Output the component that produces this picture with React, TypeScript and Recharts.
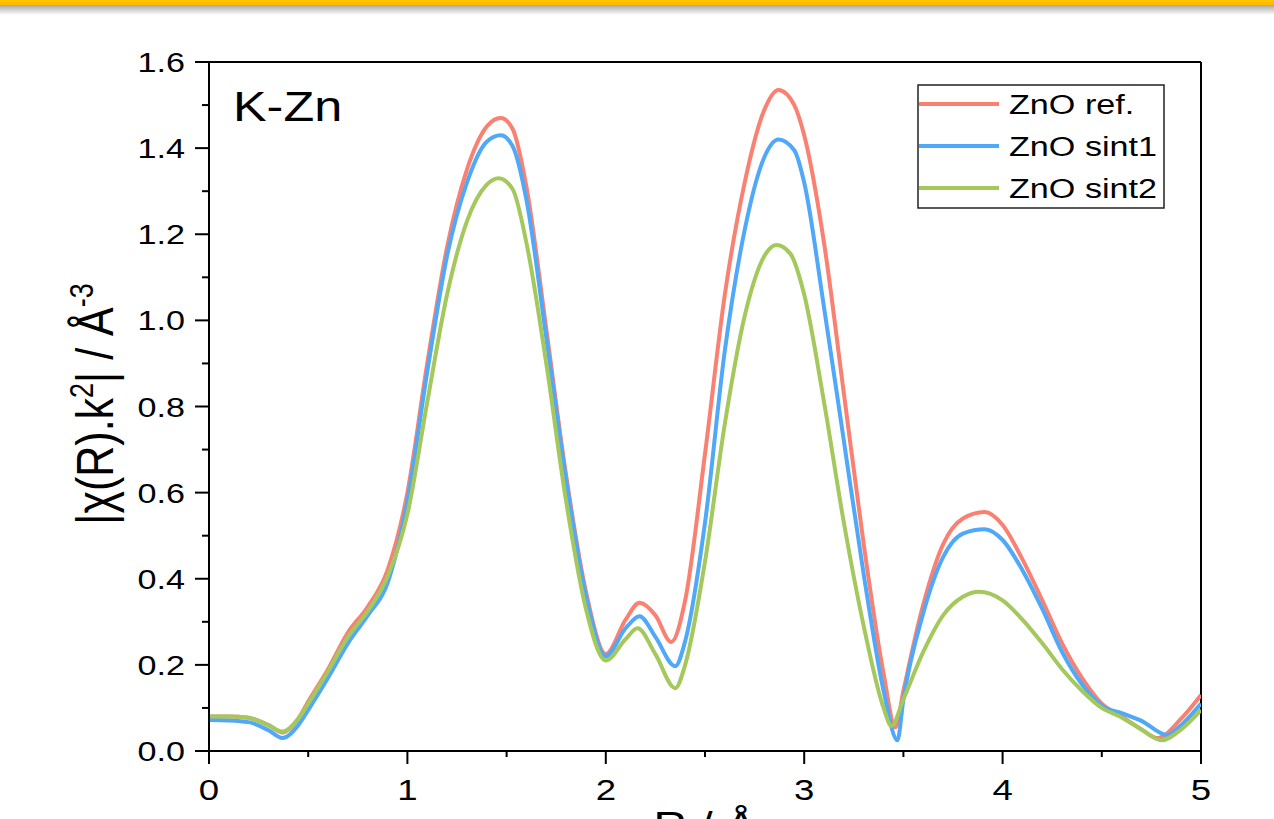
import React from 'react';
import { LineChart, Line, XAxis, YAxis, ReferenceLine, Legend } from 'recharts';

const FONT = '"Liberation Sans", Arial, Helvetica, sans-serif';
const SX = 1.22;

// ZnO ref.
const refR = [0, 0.1, 0.2, 0.3, 0.37, 0.45, 0.5, 0.6, 0.7, 0.8, 0.9, 1.0, 1.1, 1.2, 1.3, 1.4, 1.47, 1.53, 1.6, 1.7, 1.8, 1.9, 2.0, 2.1, 2.17, 2.25, 2.33, 2.4, 2.5, 2.6, 2.7, 2.8, 2.87, 2.95, 3.0, 3.1, 3.2, 3.3, 3.4, 3.46, 3.5, 3.6, 3.7, 3.8, 3.91, 4.0, 4.1, 4.2, 4.3, 4.4, 4.5, 4.6, 4.7, 4.78, 4.9, 5.0];
const refChi = [0.08, 0.08, 0.077, 0.06, 0.043, 0.075, 0.115, 0.19, 0.275, 0.335, 0.42, 0.6, 0.9, 1.17, 1.35, 1.45, 1.47, 1.445, 1.31, 0.98, 0.64, 0.37, 0.225, 0.305, 0.344, 0.315, 0.253, 0.35, 0.69, 1.06, 1.32, 1.49, 1.535, 1.5, 1.43, 1.18, 0.83, 0.48, 0.18, 0.055, 0.14, 0.34, 0.48, 0.54, 0.555, 0.525, 0.445, 0.35, 0.25, 0.17, 0.11, 0.08, 0.05, 0.03, 0.075, 0.13];

// ZnO sint1
const sint1R = [0, 0.1, 0.2, 0.3, 0.37, 0.45, 0.5, 0.6, 0.7, 0.8, 0.9, 1.0, 1.1, 1.2, 1.3, 1.4, 1.47, 1.53, 1.6, 1.7, 1.8, 1.9, 2.0, 2.1, 2.17, 2.25, 2.35, 2.4, 2.5, 2.6, 2.7, 2.8, 2.87, 2.95, 3.0, 3.1, 3.2, 3.3, 3.4, 3.47, 3.5, 3.6, 3.7, 3.8, 3.91, 4.0, 4.1, 4.2, 4.3, 4.4, 4.5, 4.6, 4.7, 4.83, 4.9, 5.0];
const sint1Chi = [0.072, 0.071, 0.067, 0.048, 0.03, 0.06, 0.095, 0.17, 0.25, 0.315, 0.39, 0.58, 0.88, 1.15, 1.32, 1.415, 1.43, 1.405, 1.28, 0.96, 0.63, 0.36, 0.22, 0.285, 0.313, 0.265, 0.197, 0.255, 0.53, 0.93, 1.21, 1.38, 1.42, 1.395, 1.32, 1.03, 0.72, 0.41, 0.14, 0.025, 0.12, 0.32, 0.45, 0.505, 0.515, 0.49, 0.42, 0.33, 0.23, 0.155, 0.105, 0.088, 0.07, 0.037, 0.06, 0.11];

// ZnO sint2
const sint2R = [0, 0.1, 0.2, 0.3, 0.37, 0.45, 0.5, 0.6, 0.7, 0.8, 0.9, 1.0, 1.1, 1.2, 1.3, 1.4, 1.46, 1.53, 1.6, 1.7, 1.8, 1.9, 2.0, 2.1, 2.16, 2.25, 2.35, 2.4, 2.5, 2.6, 2.7, 2.8, 2.86, 2.93, 3.0, 3.1, 3.2, 3.3, 3.4, 3.44, 3.5, 3.6, 3.7, 3.8, 3.88, 4.0, 4.1, 4.2, 4.3, 4.4, 4.5, 4.6, 4.7, 4.8, 4.9, 5.0];
const sint2Chi = [0.08, 0.08, 0.077, 0.06, 0.045, 0.075, 0.11, 0.185, 0.265, 0.325, 0.405, 0.55, 0.81, 1.06, 1.23, 1.315, 1.33, 1.305, 1.18, 0.9, 0.58, 0.33, 0.21, 0.26, 0.285, 0.225, 0.146, 0.2, 0.44, 0.76, 1.01, 1.15, 1.175, 1.155, 1.06, 0.81, 0.53, 0.29, 0.1, 0.058, 0.12, 0.23, 0.315, 0.358, 0.37, 0.35, 0.305, 0.25, 0.19, 0.14, 0.1, 0.078, 0.05, 0.025, 0.05, 0.095];

const seriesNames = ['ZnO ref.', 'ZnO sint1', 'ZnO sint2'];
const seriesColors = ['#FA8072', '#4FA8F8', '#A4C85C'];

const xTicks = [0, 0.5, 1, 1.5, 2, 2.5, 3, 3.5, 4, 4.5, 5];
const yTicks = [0, 0.1, 0.2, 0.3, 0.4, 0.5, 0.6, 0.7, 0.8, 0.9, 1.0, 1.1, 1.2, 1.3, 1.4, 1.5, 1.6];

const toData = (rs: number[], ys: number[]) => rs.map((r, i) => ({ r, chi: ys[i] }));
const refData = toData(refR, refChi);
const sint1Data = toData(sint1R, sint1Chi);
const sint2Data = toData(sint2R, sint2Chi);
const allData = [refData, sint1Data, sint2Data];

const XTick = (props: any) => {
  const { x, y, payload } = props;
  const v = payload.value as number;
  const major = Math.abs(v - Math.round(v)) < 1e-6;
  return (
    <g>
      <line x1={x} x2={x} y1={y} y2={y + (major ? 13 : 6)} stroke="#000" strokeWidth={2} />
      {major && (
        <g transform={`translate(${x},${y + 49}) scale(${SX},1)`}>
          <text x={0} y={0} textAnchor="middle" fontSize={30} fontFamily={FONT} fill="#000">
            {String(v)}
          </text>
        </g>
      )}
    </g>
  );
};

const YTick = (props: any) => {
  const { x, y, payload } = props;
  const v = payload.value as number;
  const major = Math.round(v * 10) % 2 === 0;
  return (
    <g>
      <line x1={x - (major ? 14 : 7)} x2={x} y1={y} y2={y} stroke="#000" strokeWidth={2} />
      {major && (
        <g transform={`translate(${x - 24},${y + 10}) scale(${SX},1)`}>
          <text x={0} y={0} textAnchor="end" fontSize={28} fontFamily={FONT} fill="#000">
            {v.toFixed(1)}
          </text>
        </g>
      )}
    </g>
  );
};

const renderLegend = () => (
  <svg width={248} height={125} style={{ display: 'block' }}>
    <rect x={1} y={1} width={246} height={123} fill="#fff" stroke="#222" strokeWidth={1.5} />
    {seriesNames.map((name, i) => {
      const cy = 20 + i * 42;
      return (
        <g key={name}>
          <line x1={2} x2={82} y1={cy} y2={cy} stroke={seriesColors[i]} strokeWidth={4} />
          <g transform={`translate(92,${cy + 10}) scale(${SX},1)`}>
            <text x={0} y={0} fontSize={28} fontFamily={FONT} fill="#000">{name}</text>
          </g>
        </g>
      );
    })}
  </svg>
);

export default function App() {
  return (
    <div style={{ position: 'absolute', left: 0, top: 0, width: 1274, height: 819, background: '#fff', overflow: 'hidden' }}>
      <LineChart
        width={1274}
        height={819}
        margin={{ top: 62, right: 73, left: 149, bottom: 38 }}
      >
        <XAxis
          dataKey="r"
          type="number"
          domain={[0, 5]}
          ticks={xTicks}
          interval={0}
          allowDataOverflow
          height={30}
          tickSize={0}
          tickMargin={0}
          tickLine={false}
          axisLine={{ stroke: '#000', strokeWidth: 2 }}
          tick={<XTick />}
        />
        <YAxis
          type="number"
          domain={[0, 1.6]}
          ticks={yTicks}
          interval={0}
          allowDataOverflow
          width={60}
          tickSize={0}
          tickMargin={0}
          tickLine={false}
          axisLine={{ stroke: '#000', strokeWidth: 2 }}
          tick={<YTick />}
        />
        <ReferenceLine y={1.6} stroke="#000" strokeWidth={2} ifOverflow="visible" />
        <ReferenceLine x={5} stroke="#000" strokeWidth={2} ifOverflow="visible" />
        {allData.map((d, i) => (
          <Line
            key={seriesNames[i]}
            data={d}
            dataKey="chi"
            name={seriesNames[i]}
            type="monotone"
            stroke={seriesColors[i]}
            strokeWidth={4}
            dot={false}
            activeDot={false}
            isAnimationActive={false}
          />
        ))}
        <Legend
          layout="vertical"
          align="center"
          verticalAlign="middle"
          wrapperStyle={{ position: 'absolute', left: 917, top: 84, width: 248, height: 125 }}
          content={renderLegend}
        />
        <g transform={`translate(233,121) scale(1.2,1)`}>
          <text x={0} y={0} fontSize={42} fontFamily={FONT} fill="#000">K-Zn</text>
        </g>
        <g transform={`translate(113,404) scale(${SX},1) rotate(-90)`}>
          <text x={0} y={0} textAnchor="middle" fontSize={43} fontFamily={FONT} fill="#000">
            |χ(R).k<tspan dy={-16} fontSize={27}>2</tspan>
            <tspan dy={16}>| / Å</tspan>
            <tspan dy={-16} fontSize={27}>-3</tspan>
          </text>
        </g>
        <g transform={`translate(705,839) scale(${SX},1)`}>
          <text x={0} y={0} textAnchor="middle" fontSize={38} fontFamily={FONT} fill="#000">R / Å</text>
        </g>
      </LineChart>
      <div style={{ position: 'absolute', left: 0, top: 0, width: 1274, height: 5, background: 'linear-gradient(#FFC400, #FFBA00)' }} />
      <div style={{ position: 'absolute', left: 0, top: 5, width: 1274, height: 10, background: 'linear-gradient(rgba(0,0,0,0.35), rgba(0,0,0,0))' }} />
    </div>
  );
}
